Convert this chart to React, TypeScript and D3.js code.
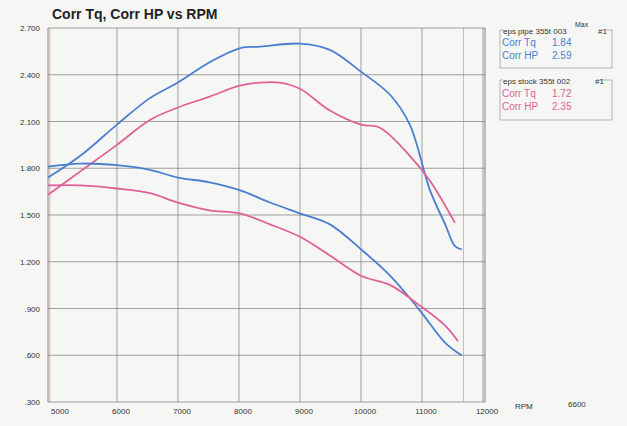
import React from 'react';
import * as d3 from 'd3';

const rpmTicks = [5000, 6000, 7000, 8000, 9000, 10000, 11000, 12000];
const yTicks = [0.3, 0.6, 0.9, 1.2, 1.5, 1.8, 2.1, 2.4, 2.7];

const pipeHpRpm = [4870, 5400, 6000, 6540, 7000, 7520, 8010, 8350, 9000, 9490, 10000, 10480, 10800, 11130, 11380, 11540, 11650];
const pipeHp = [1.74, 1.88, 2.08, 2.25, 2.35, 2.48, 2.57, 2.58, 2.6, 2.56, 2.42, 2.27, 2.08, 1.66, 1.44, 1.3, 1.28];
const stockHpRpm = [4870, 5400, 6000, 6540, 7000, 7520, 8010, 8350, 8670, 9000, 9490, 10000, 10310, 10800, 11130, 11540];
const stockHp = [1.63, 1.78, 1.95, 2.11, 2.19, 2.26, 2.33, 2.35, 2.35, 2.31, 2.17, 2.08, 2.06, 1.88, 1.72, 1.45];
const pipeTqRpm = [4870, 5400, 6000, 6540, 7000, 7520, 8010, 8510, 9000, 9490, 10000, 10480, 10960, 11380, 11650];
const pipeTq = [1.81, 1.83, 1.82, 1.79, 1.74, 1.71, 1.66, 1.58, 1.51, 1.44, 1.28, 1.11, 0.89, 0.68, 0.6];
const stockTqRpm = [4870, 5400, 6000, 6540, 7000, 7520, 8010, 8510, 9000, 9490, 10000, 10480, 10960, 11380, 11590];
const stockTq = [1.69, 1.69, 1.67, 1.64, 1.58, 1.53, 1.51, 1.44, 1.36, 1.24, 1.11, 1.05, 0.92, 0.79, 0.69];

const BLUE = '#4a7fd0';
const PINK = '#e0619a';
const FONT = 'Arial, "Liberation Sans", sans-serif';

export default function App() {
  const x = d3.scaleLinear().domain([4870, 12000]).range([48, 483]);
  const y = d3.scaleLinear().domain([0.3, 2.7]).range([402, 28]);
  const line = (xs: number[], ys: number[]) =>
    d3.line<number>().x((_, i) => x(xs[i])).y((d) => y(d)).curve(d3.curveCatmullRom)(ys) || '';
  const series = [
    { xs: pipeHpRpm, ys: pipeHp, c: BLUE },
    { xs: stockHpRpm, ys: stockHp, c: PINK },
    { xs: pipeTqRpm, ys: pipeTq, c: BLUE },
    { xs: stockTqRpm, ys: stockTq, c: PINK },
  ];
  return (
    <svg width={627} height={426} style={{ position: 'absolute', left: 0, top: 0 }} fontFamily={FONT}>
      <rect width={627} height={426} fill="#f6f6f4" />
      <text x={52} y={19} fontSize={14} fontWeight="bold" fill="#222">Corr Tq, Corr HP vs RPM</text>
      {yTicks.map((t) => (
        <g key={t}>
          <line x1={48} x2={485} y1={y(t)} y2={y(t)} stroke="#666" strokeWidth={0.6} />
          <text x={40} y={y(t) + 3} fontSize={8} textAnchor="end" fill="#333">
            {t >= 1 ? t.toFixed(3) : t.toFixed(3).slice(1)}
          </text>
        </g>
      ))}
      {rpmTicks.map((t) => (
        <g key={t}>
          {t > 5000 && <line x1={x(t)} x2={x(t)} y1={28} y2={402} stroke="#666" strokeWidth={0.6} />}
          <text x={x(t) + 4} y={414} fontSize={8} textAnchor="middle" fill="#333">{t}</text>
        </g>
      ))}
      <line x1={48} x2={48} y1={28} y2={402} stroke="#666" strokeWidth={0.8} />
      <line x1={485} x2={485} y1={28} y2={402} stroke="#666" strokeWidth={0.8} />
      <line x1={x(4900)} x2={x(4900)} y1={28} y2={402} stroke="#d77" strokeWidth={0.6} />
      <line x1={x(11680)} x2={x(11680)} y1={28} y2={402} stroke="#d77" strokeWidth={0.6} />
      <text x={515} y={409} fontSize={8} fill="#333">RPM</text>
      <text x={568} y={407} fontSize={8} fill="#333">6600</text>
      {series.map((s, i) => (
        <path key={i} d={line(s.xs, s.ys)} fill="none" stroke={s.c} strokeWidth={1.8} />
      ))}
      <g fontSize={10}>
        <path d="M500,30 V68 H612 M500,30 H504 M605,30 H612 V68" fill="none" stroke="#888" strokeWidth={0.6} />
        <text x={503} y={34} fontSize={8} fill="#333">eps pipe 355t 003</text>
        <text x={575} y={27} fontSize={7} fill="#333">Max</text>
        <text x={598} y={34} fontSize={8} fill="#333">#1</text>
        <text x={502} y={46} fill={BLUE}>Corr Tq</text>
        <text x={552} y={46} fill={BLUE}>1.84</text>
        <text x={502} y={59} fill={BLUE}>Corr HP</text>
        <text x={552} y={59} fill={BLUE}>2.59</text>
        <path d="M500,80 V120 H612 M500,80 H503 M600,80 H612 V120" fill="none" stroke="#888" strokeWidth={0.6} />
        <text x={503} y={84} fontSize={8} fill="#333">eps stock 355t 002</text>
        <text x={595} y={84} fontSize={8} fill="#333">#1</text>
        <text x={502} y={97} fill={PINK}>Corr Tq</text>
        <text x={552} y={97} fill={PINK}>1.72</text>
        <text x={502} y={110} fill={PINK}>Corr HP</text>
        <text x={552} y={110} fill={PINK}>2.35</text>
      </g>
    </svg>
  );
}
